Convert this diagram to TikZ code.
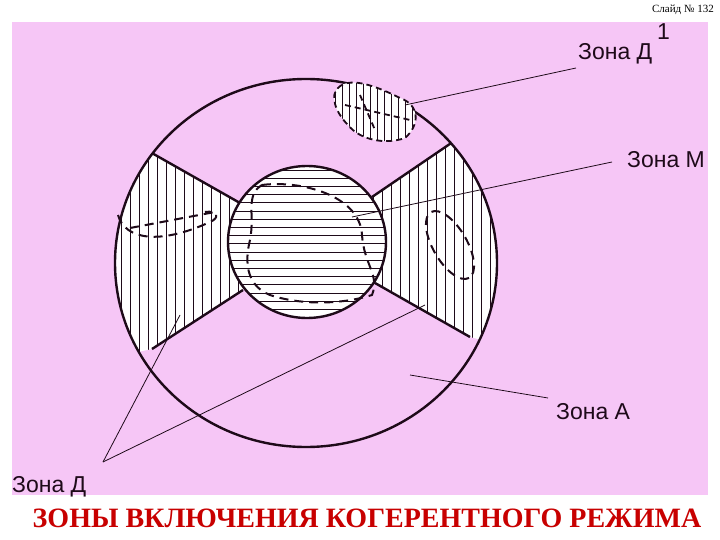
\documentclass[tikz,border=0pt]{standalone}
\usepackage{fontspec}
\setmainfont{Liberation Sans}
\newfontfamily\serifb{Liberation Serif}
\definecolor{pinkbg}{RGB}{246,198,246}
\definecolor{ink}{RGB}{30,10,25}
\definecolor{titlered}{RGB}{200,0,0}
\begin{document}
\begin{tikzpicture}[x=1pt,y=-1pt,line join=round,
  lbl/.style={font=\fontsize{23}{23}\selectfont,text=ink,inner sep=0pt},
  ptr/.style={draw=ink,line width=0.8pt},
  edge/.style={draw=ink,line width=2.4pt},
  hatch/.style={draw=ink,line width=0.9pt},
  dsh/.style={draw=ink,line width=2pt,dash pattern=on 9pt off 6pt}]
\useasboundingbox (0,0) rectangle (720,540);
\fill[white] (0,0) rectangle (720,540);
\fill[pinkbg] (12,22) rectangle (708,495);
% wedges hatched
\begin{scope}
\clip (306,263) ellipse [x radius=191, y radius=184];
\fill[white] (100,140) -- (143,148) -- (240,203) -- (243,290) -- (152,349) -- (100,360) -- cycle;
\fill[white] (520,120) -- (463,135) -- (372,197) -- (375,283) -- (470,337) -- (520,350) -- cycle;
\draw[edge] (143,148) -- (240,203);
\draw[edge] (152,349) -- (243,290);
\draw[edge] (463,135) -- (372,197);
\draw[edge] (470,337) -- (375,283);
\clip (100,140) -- (143,148) -- (240,203) -- (243,290) -- (152,349) -- (100,360) -- cycle
      (520,120) -- (463,135) -- (372,197) -- (375,283) -- (470,337) -- (520,350) -- cycle;
\foreach \i in {0,...,45} \draw[hatch] (112+9*\i,120) -- (112+9*\i,370);
\end{scope}
% outer circle
\draw[edge] (306,263) ellipse [x radius=191, y radius=184];
% inner circle
\fill[white] (307,242) ellipse [x radius=79, y radius=76];
\begin{scope}
\clip (307,242) ellipse [x radius=79, y radius=76];
\foreach \i in {0,...,19} \draw[hatch] (220,170+8.2*\i) -- (400,170+8.2*\i);
\end{scope}
\draw[edge] (307,242) ellipse [x radius=79, y radius=76];
% dashed fragments
\draw[dsh] (262,185) .. controls (300,180) and (360,195) .. (362,235) .. controls (364,265) and (380,275) .. (372,295) .. controls (340,305) and (300,305) .. (270,295) .. controls (245,285) and (245,260) .. (250,240) .. controls (255,215) and (245,195) .. (262,185);
\draw[dsh] (118,215) .. controls (125,240) and (160,245) .. (210,222) .. controls (220,218) and (218,210) .. (205,212);
\draw[dsh] (130,228) -- (215,212);
\draw[dsh,rotate around={-60:(450,245)}] (450,245) ellipse [x radius=38, y radius=17];
% small blob zone D 1
\begin{scope}
\clip (338,88) .. controls (350,75) and (380,88) .. (400,98) .. controls (420,105) and (420,125) .. (405,138) .. controls (385,145) and (360,140) .. (348,125) .. controls (335,112) and (330,95) .. (338,88) -- cycle;
\fill[white] (320,70) rectangle (430,150);
\foreach \i in {0,...,12} \draw[hatch] (335+7*\i,70) -- (335+7*\i,150);
\end{scope}
\draw[dsh,line width=1.8pt,dash pattern=on 6pt off 4pt] (338,88) .. controls (350,75) and (380,88) .. (400,98) .. controls (420,105) and (420,125) .. (405,138) .. controls (385,145) and (360,140) .. (348,125) .. controls (335,112) and (330,95) .. (338,88) -- cycle;
\draw[dsh,line width=1.8pt,dash pattern=on 6pt off 4pt] (345,105) -- (410,120) (360,95) -- (375,130);
% labels
\node[lbl,anchor=base west] (zd1) at (578,60) {Зона Д};
\node[lbl,anchor=base west] (one) at (657,40) {1};
\node[lbl,anchor=base west] (zm) at (627,168) {Зона М};
\node[lbl,anchor=base west] (za) at (556,419) {Зона А};
\node[lbl,anchor=base west] (zd) at (12,492) {Зона Д};
\coordinate (p1) at (405,105);
\coordinate (p2) at (352,217);
\coordinate (p3) at (410,375);
\coordinate (p4a) at (180,315);
\coordinate (p4b) at (425,305);
\coordinate (h) at (103,462);
\draw[ptr] (576,68) -- (p1);
\draw[ptr] (612,162) -- (p2);
\draw[ptr] (548,398) -- (p3);
\draw[ptr] (h) -- (p4a);
\draw[ptr] (h) -- (p4b);
\node[font=\serifb\fontsize{11}{11}\selectfont,anchor=east,inner sep=0pt] (slide) at (714,10) {Слайд № 132};
\node[font=\serifb\bfseries\fontsize{28}{28}\selectfont,text=titlered,inner sep=0pt] (title) at (367,518) {ЗОНЫ ВКЛЮЧЕНИЯ КОГЕРЕНТНОГО РЕЖИМА};
\end{tikzpicture}
\end{document}
